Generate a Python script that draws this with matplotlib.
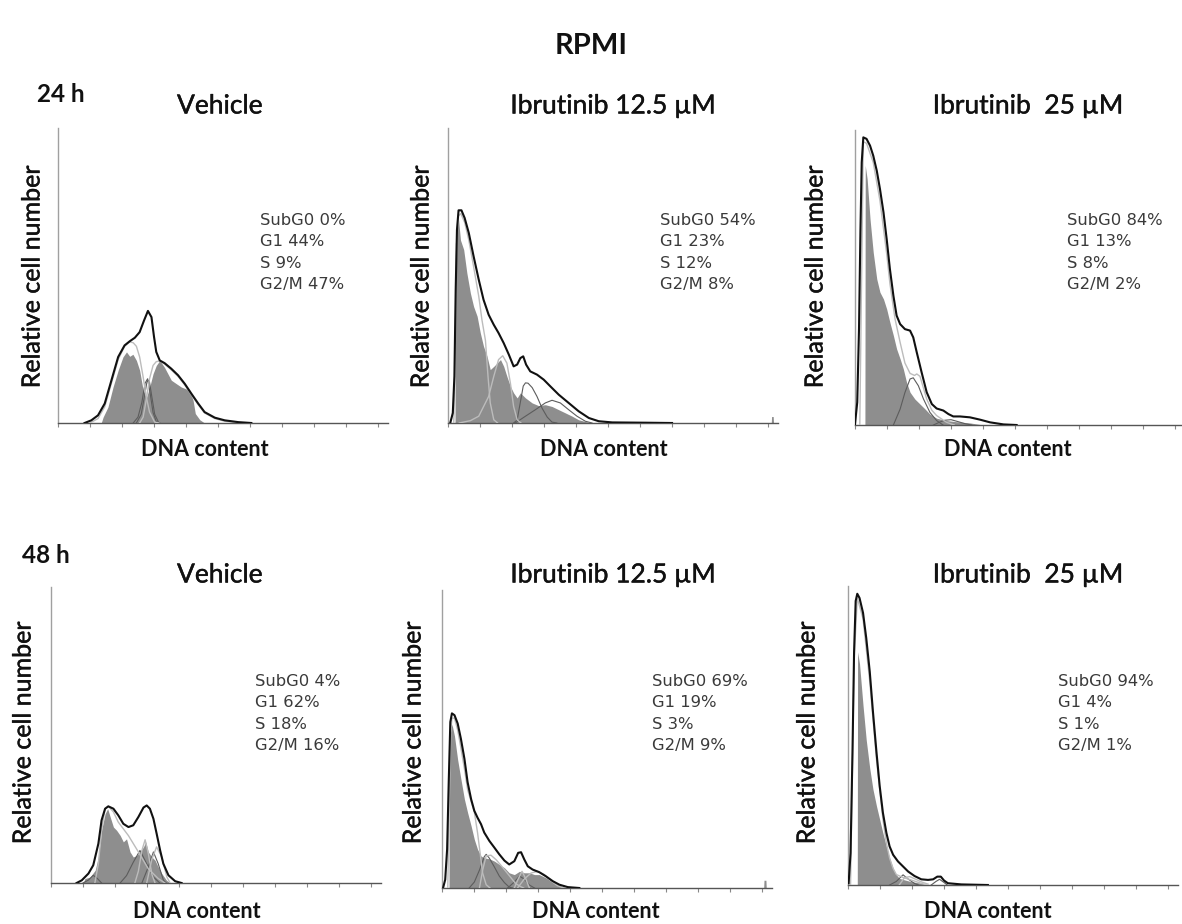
import matplotlib
matplotlib.use("Agg")
import matplotlib.pyplot as plt
import matplotlib.patheffects as pe

plt.rcParams['font.family'] = ['Lato', 'DejaVu Sans']

# ---- data: (DNA channel, % of axis height) ----
# 24 h, Vehicle
env_24_veh = [(83,0),(104,0.9),(125,2.6),(146,6.6),(167,14.5),(188,22.4),(208,26.3),(224,27.7),(240,28.9),(255,30.8),(269,34.8),(281,38.0),(292,35.9),(300,29.2),(307,24.1),(318,21.2),(333,20.3),(354,18.4),(375,16.2),(396,13.3),(417,9.9),(438,6.6),(458,3.7),(490,1.8),(521,0.9),(563,0.3),(604,0)]
hist_24_veh = [(135,0),(141,2.0),(156,5.4),(172,12.2),(188,17.9),(203,22.4),(214,24.1),(224,22.6),(234,23.3),(245,21.2),(255,17.9),(266,11.1),(276,8.5),(286,12),(297,16.7),(307,19.5),(318,21.2),(333,18.8),(354,14.5),(370,13.3),(385,12.2),(411,11.1),(422,7.7),(429,3.2),(443,1.1),(458,0)]
light_24_veh = [
    [(100,0),(125,1.5),(146,5.5),(167,13.5),(188,21.5),(208,26),(224,27.5),(235,27.2),(245,26),(255,22.4),(266,15.6),(276,8.8),(286,3.7),(302,0.3),(315,0)],
    [(255,0),(266,2),(276,8),(286,15),(297,19.5),(307,20.8),(318,21),(333,20),(354,18),(375,15.8),(396,12.9),(417,9.5),(438,6.2),(458,3.4),(490,1.5),(521,0.6),(563,0)],
]
dark_24_veh = [
    [(235,0),(250,2),(262,7),(272,13.5),(280,15),(288,10),(297,3.5),(307,0.5),(318,0)],
    [(245,0),(260,3),(270,9),(278,14),(285,14.5),(293,9),(302,3),(315,0)],
]

# 24 h, Ibrutinib 12.5 uM
env_24_i12 = [(7,0),(15,3.4),(20,15.8),(24,45),(28,65.5),(33,72.1),(42,72.1),(52,69.5),(65,64.4),(80,56.5),(96,48.6),(111,41.8),(127,36.7),(143,33.3),(158,30.5),(174,27.1),(190,23.2),(205,19.2),(216,19.8),(226,22.0),(235,22.6),(244,19.8),(257,17.5),(278,16.4),(299,14.7),(320,12.4),(346,9.6),(377,6.8),(408,4.0),(440,1.7),(471,0.6),(513,0.2),(617,0.1),(700,0)]
hist_24_i12 = [(22,0),(23,61),(33,68.9),(39,62),(49,58.8),(59,50.8),(70,44),(80,39.5),(91,36.2),(101,30.5),(111,26),(122,22.6),(132,18.1),(143,19.2),(153,20.3),(164,21.5),(174,19.2),(184,15.8),(195,12.4),(205,10.2),(216,8.5),(226,10.2),(242,8.5),(263,6.8),(283,5.9),(304,6.2),(325,5.6),(346,4.5),(367,3.4),(388,2.3),(408,1.1),(440,0.2),(471,0),(1010,0),(1011,2.2),(1016,2.2),(1017,0)]
light_24_i12 = [
    [(18,0),(22,20),(26,55),(31,70),(40,71),(52,68),(65,62),(80,53),(96,43),(106,35),(117,28),(125,15.8),(132,6.8),(143,1.1),(155,0)],
    [(35,0),(70,0.8),(96,2.3),(127,9),(143,15.8),(158,21.5),(171,22.8),(184,20.3),(195,13.5),(205,5.6),(216,1.1),(228,0)],
]
dark_24_i12 = [
    [(205,0),(216,1),(226,7),(235,12.5),(242,13.6),(250,13.5),(263,12),(278,9),(294,5),(310,2),(325,0.3),(340,0)],
    [(210,0),(242,2.3),(273,4.5),(304,6.8),(325,7.7),(351,6.8),(377,4.5),(403,2.3),(429,0.6),(450,0)],
]

# 24 h, Ibrutinib 25 uM
env_24_i25 = [(0,0.3),(7,7.7),(12.5,32.5),(17,66),(21,89),(26,97.5),(36,97),(47,94.7),(57,91.3),(68,86.2),(78,80),(89,72.1),(99,63),(109,52.9),(120,43.8),(130,37.1),(141,34.2),(156,32.5),(172,32),(182,29.7),(193,24.6),(208,17.9),(224,11.1),(240,7.1),(255,5.6),(276,4.9),(292,3.7),(307,2.9),(328,2.9),(359,2.6),(391,1.8),(422,0.9),(464,0.2),(505,0)]
hist_24_i25 = [(31,0),(32,88),(38,83.4),(47,69.8),(57,58.5),(68,49.5),(78,45),(89,42.7),(99,39.3),(109,34.8),(120,30.3),(130,25.8),(141,22.4),(151,19),(161,14.5),(172,11.1),(187,8.8),(203,7.1),(219,5.4),(234,3.7),(255,2.3),(286,1.5),(318,1.1),(359,0.7),(401,0)]
light_24_i25 = [
    [(15,0),(20,45),(26,96),(36,95.5),(57,89),(78,76),(99,58),(109,48),(125,36),(141,28),(156,21),(172,17.5),(186,16.8),(193,17.3),(203,16.5),(224,8.8),(240,5),(255,3.2),(286,0.9),(310,0)],
]
dark_24_i25 = [
    [(120,0),(141,5.4),(156,11),(172,15.6),(182,16),(198,13.3),(214,8.8),(234,4.3),(255,1.5),(275,0)],
    [(245,0),(265,1),(280,1.6),(300,1.8),(320,1.2),(345,0.4),(365,0)],
]

# 48 h, Vehicle
env_48_veh = [(80,0),(96,0.9),(117,3.2),(132,6),(148,13.3),(158,21.2),(169,25.1),(179,25.9),(195,25.1),(210,22.9),(226,20),(242,18.9),(257,19.5),(273,22.3),(289,25.5),(299,26.2),(309,25.1),(320,21.7),(330,16.7),(341,11),(351,6.5),(367,2.6),(388,0.6),(408,0)]
hist_48_veh = [(101,0),(106,1.5),(122,2),(138,4.3),(148,8.8),(158,17.8),(169,23.4),(177,25.1),(185,22.3),(195,18.9),(205,17.8),(216,16.1),(226,13.9),(236,14.9),(247,10.5),(257,8.8),(268,9.3),(278,10.5),(289,12.2),(296,13.9),(304,10.5),(315,8.8),(325,7.7),(335,5.4),(346,3.2),(361,0.9),(372,0)]
light_48_veh = [
    [(137,0),(148,6.5),(158,17.8),(169,25),(179,25.9),(195,24),(210,20.6),(242,16),(273,10.5),(304,4.8),(335,1.5),(356,0)],
    [(262,0),(273,4),(284,11),(294,14.6),(304,10),(315,3),(325,0)],
    [(299,0),(315,8),(330,12.2),(346,8.8),(362,2),(372,0)],
]
dark_48_veh = [
    [(100,0),(117,1),(132,2.6),(145,1.5),(158,0)],
    [(216,0),(236,2.5),(257,7),(278,11),(299,6.5),(320,2),(340,0)],
    [(284,0),(304,5.4),(320,10.5),(335,6.5),(351,1),(360,0)],
]

# 48 h, Ibrutinib 12.5 uM
env_48_i12 = [(4,0.3),(10,2.8),(16,13),(21,35.5),(26,55.7),(31,58.6),(39,58),(49,55.2),(59,50.1),(70,43.4),(80,35.5),(91,29.8),(101,25.9),(111,23.6),(122,21.4),(132,18.6),(148,15.8),(164,13.5),(179,11.3),(195,9.2),(210,7.9),(226,9),(238,11.8),(247,12),(257,9.6),(268,7.3),(283,6.2),(304,5.3),(325,3.9),(346,2.3),(367,1.1),(393,0.3),(429,0)]
hist_48_i12 = [(22,0),(23,50),(31,55),(39,51),(49,43),(59,36.6),(70,29.8),(80,25.3),(91,20.8),(101,16.3),(111,13),(122,10.7),(132,10.1),(148,9.8),(164,9),(179,7.9),(195,6.8),(210,5.1),(226,4.5),(242,5.6),(257,5.1),(273,5.1),(289,4.5),(304,4.5),(325,3.4),(346,1.9),(367,0.8),(388,0),(1005,0),(1006,2.6),(1012,2.6),(1013,0)]
light_48_i12 = [
    [(18,0),(22,25),(27,52),(31,57),(39,57),(49,53),(59,47),(70,40),(80,33),(91,29),(101,25.5),(111,18.6),(119,11.8),(127,5),(138,1.1),(150,0)],
    [(117,0),(127,6),(138,10.8),(153,11),(169,9.5),(185,7.5),(200,5.5),(215,3.5),(230,1.5),(245,0.5),(255,0)],
    [(226,0),(238,3),(250,5.6),(262,3),(273,0)],
    [(236,0),(257,3),(278,5),(299,5.6),(320,4.5),(340,2.5),(360,0.8),(380,0)],
]
dark_48_i12 = [
    [(85,0),(101,2),(117,6),(132,10.5),(138,11.3),(148,10),(164,7),(179,4),(195,1.8),(210,0.3),(220,0)],
    [(205,0),(226,2),(242,4),(257,3),(273,1),(289,0)],
]

# 48 h, Ibrutinib 25 uM
env_48_i25 = [(2,0.6),(8,10.7),(14,44.4),(19,78),(24,95),(29,97.4),(36,96),(47,91),(57,82.6),(68,71.3),(78,57.9),(89,44.4),(99,33.1),(109,24.2),(120,17.4),(130,12.9),(141,10.1),(156,7.9),(172,6.2),(188,4.5),(208,3),(229,1.9),(250,1.7),(266,1.9),(279,2.8),(290,2.8),(300,1.5),(312,0.6),(354,0.2),(437,0)]
hist_48_i25 = [(29,0),(30,78),(36,74),(47,60),(57,48.5),(68,39),(78,32),(89,26.4),(99,21.9),(109,17.4),(120,12.9),(130,9),(141,5.6),(151,3.4),(161,2.2),(177,1.7),(198,1.1),(229,0.6),(260,0)]
light_48_i25 = [
    [(8,0),(19,75),(29,96),(47,89),(68,68),(89,42),(109,22),(120,14),(130,9),(141,5.5),(151,3.5),(172,2.5),(188,2),(208,1.3),(230,0.5),(250,0)],
    [(160,0),(177,2.5),(193,2.8),(210,2),(230,1),(250,0.3)],
]
dark_48_i25 = [
    [(130,0),(151,1.2),(172,3.4),(188,2),(208,0.5),(220,0)],
    [(260,0),(275,1.2),(286,1.9),(298,1),(310,0)],
]

titles = ["Vehicle", "Ibrutinib 12.5 \u00b5M", "Ibrutinib  25 \u00b5M"]
stats_24 = [["SubG0 0%", "G1 44%", "S 9%", "G2/M 47%"],
            ["SubG0 54%", "G1 23%", "S 12%", "G2/M 8%"],
            ["SubG0 84%", "G1 13%", "S 8%", "G2/M 2%"]]
stats_48 = [["SubG0 4%", "G1 62%", "S 18%", "G2/M 16%"],
            ["SubG0 69%", "G1 19%", "S 3%", "G2/M 9%"],
            ["SubG0 94%", "G1 4%", "S 1%", "G2/M 1%"]]

W, H = 1182, 924
fig = plt.figure(figsize=(W / 100, H / 100), dpi=100)
fig.patch.set_facecolor('white')
thick = [pe.withStroke(linewidth=0.3, foreground='#111111')]


def ftext(x, y, s, **kw):
    fig.text(x / W, 1 - y / H, s, **kw)


def xy(pts):
    return [p[0] for p in pts], [p[1] for p in pts]


def panel(left, top, bottom, env, hist, light, dark):
    ax = fig.add_axes([left / W, 1 - bottom / H, 330 / W, (bottom - top) / H])
    hx, hy = xy(hist)
    ax.fill_between(hx, hy, 0, color='#8e8e8e', lw=0, zorder=1)
    for c in dark:
        cx, cy = xy(c)
        ax.plot(cx, cy, color='#5c5c5c', lw=0.8, zorder=2)
    for c in light:
        cx, cy = xy(c)
        ax.plot(cx, cy, color='#bcbcbc', lw=1.0, zorder=3)
    ex, ey = xy(env)
    ax.plot(ex, ey, color='#111111', lw=1.5, zorder=4)
    ax.set_xlim(0, 1031)
    ax.set_ylim(0, 100)
    for s in ['top', 'right']:
        ax.spines[s].set_visible(False)
    ax.spines['left'].set_color('#a0a0a0')
    ax.spines['left'].set_linewidth(1.0)
    ax.spines['bottom'].set_color('#555555')
    ax.spines['bottom'].set_linewidth(1.0)
    ax.set_xticks(range(0, 1001, 100))
    ax.set_xticklabels([])
    ax.set_yticks([])
    ax.tick_params(axis='x', direction='out', length=3, width=0.8, color='#888888')
    ax.patch.set_alpha(0)
    return ax


# row 1 (24 h)
panel(58, 128, 423, env_24_veh, hist_24_veh, light_24_veh, dark_24_veh)
panel(448, 128, 423, env_24_i12, hist_24_i12, light_24_i12, dark_24_i12)
panel(855, 130, 425, env_24_i25, hist_24_i25, light_24_i25, dark_24_i25)
# row 2 (48 h)
panel(51, 587, 883, env_48_veh, hist_48_veh, light_48_veh, dark_48_veh)
panel(442, 590, 888, env_48_i12, hist_48_i12, light_48_i12, dark_48_i12)
panel(848, 586, 885, env_48_i25, hist_48_i25, light_48_i25, dark_48_i25)

ftext(591, 46, "RPMI", fontsize=21, fontweight='bold', ha='center', va='center', color='#111111')
ftext(37, 102, "24 h", fontsize=17.5, fontweight='bold', ha='left', va='baseline', color='#111111')
ftext(22, 563, "48 h", fontsize=17.5, fontweight='bold', ha='left', va='baseline', color='#111111')

title_x = [220, 613, 1028]
row_title_y = [106, 575]
ylab_x = [[32, 421, 815], [23, 413, 807]]
ylab_y = [277, 733]
dna_x = [[205, 604, 1008], [197, 596, 988]]
dna_y = [450, 911]
stat_x = [[260, 660, 1067], [255, 652, 1058]]
stat_y = [225, 686]

for r, stats in enumerate([stats_24, stats_48]):
    for c in range(3):
        ftext(title_x[c], row_title_y[r], titles[c], fontsize=19, ha='center', va='center',
              color='#111111', path_effects=thick)
        ftext(ylab_x[r][c], ylab_y[r], "Relative cell number", fontsize=18, rotation=90,
              ha='center', va='center', color='#111111', path_effects=thick)
        ftext(dna_x[r][c], dna_y[r], "DNA content", fontsize=15.5, fontweight='bold',
              ha='center', va='center', color='#111111')
        for i, line in enumerate(stats[c]):
            ftext(stat_x[r][c], stat_y[r] + i * 21.3, line, fontsize=11.8, family='DejaVu Sans',
                  ha='left', va='baseline', color='#3a3a3a')

fig.savefig("out.png", dpi=100, facecolor='white')
